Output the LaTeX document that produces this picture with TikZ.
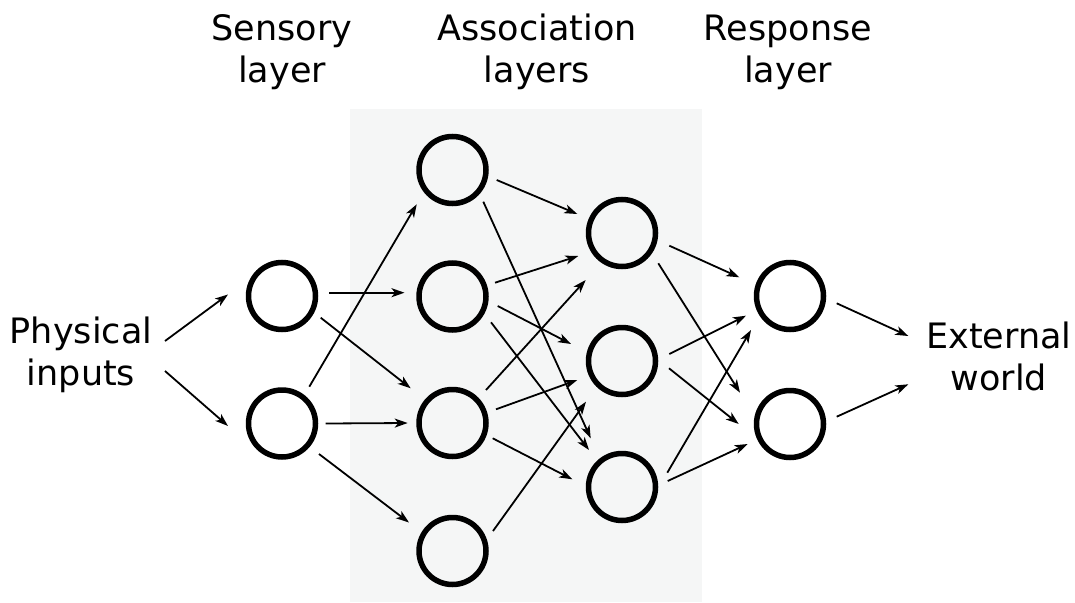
\documentclass[tikz,border=0pt]{standalone}
\usepackage{fontspec}
\setmainfont{DejaVu Sans}
\usetikzlibrary{arrows.meta}
\definecolor{assocbg}{RGB}{245,246,246}
\tikzset{
  neuron/.style={circle, draw=black, line width=5.5pt, minimum size=67pt, inner sep=0pt},
  lbl/.style={align=center, inner sep=0pt, font=\fontsize{35}{41.7}\selectfont, anchor=base},
  conn/.style={line width=1.8pt, -{Stealth[length=13pt,width=9pt,inset=3.5pt]}}
}
\begin{document}
\begin{tikzpicture}[x=1pt,y=-1pt]
\useasboundingbox (0,0) rectangle (1075,602);
\fill[assocbg] (350,109) rectangle (701.5,602);
% labels (base anchor = baseline of the last line)
\node[lbl] (sl) at (282,82) {Sensory\\layer};
\node[lbl] (al) at (537,82) {Association\\layers};
\node[lbl] (rl) at (788,82) {Response\\layer};
\node[lbl] (pi) at (81,385) {Physical\\inputs};
\node[lbl] (ew) at (999,390) {External\\world};
% neurons
\node[neuron] (s1) at (282,296) {};
\node[neuron] (s2) at (282,423.5) {};
\node[neuron] (a1) at (452.5,170) {};
\node[neuron] (a2) at (452.5,296.5) {};
\node[neuron] (a3) at (452.5,423) {};
\node[neuron] (a4) at (452.5,551) {};
\node[neuron] (b1) at (622,233) {};
\node[neuron] (b2) at (622,361) {};
\node[neuron] (b3) at (622,487) {};
\node[neuron] (r1) at (790,296) {};
\node[neuron] (r2) at (790,424) {};
% connectors
\draw[conn] ([shift={(84,-44)}]pi.base) -- ([shift={(-54,-1.5)}]s1.center);
\draw[conn] ([shift={(84,-14)}]pi.base) -- ([shift={(-54,2.5)}]s2.center);
\draw[conn] ([shift={(47,-3.3)}]s1.center) -- ([shift={(-48,-3.8)}]a2.center);
\draw[conn] ([shift={(38.7,21.7)}]s1.center) -- ([shift={(-41.8,-34.7)}]a3.center);
\draw[conn] ([shift={(27.3,-36.8)}]s2.center) -- ([shift={(-35.8,34.3)}]a1.center);
\draw[conn] ([shift={(43.7,0)}]s2.center) -- ([shift={(-44.8,0)}]a3.center);
\draw[conn] ([shift={(37,30.5)}]s2.center) -- ([shift={(-43.5,-28.5)}]a4.center);
\draw[conn] ([shift={(44.2,10)}]a1.center) -- ([shift={(-44.7,-19)}]b1.center);
\draw[conn] ([shift={(30.8,31.7)}]a1.center) -- ([shift={(-31.3,-48.7)}]b3.center);
\draw[conn] ([shift={(42.5,-13.8)}]a2.center) -- ([shift={(-43.7,23)}]b1.center);
\draw[conn] ([shift={(45.2,9.5)}]a2.center) -- ([shift={(-51,-17)}]b2.center);
\draw[conn] ([shift={(38.5,25.8)}]a2.center) -- ([shift={(-33,-37)}]b3.center);
\draw[conn] ([shift={(33.5,-33)}]a3.center) -- ([shift={(-36.3,47)}]b1.center);
\draw[conn] ([shift={(43.5,-13.7)}]a3.center) -- ([shift={(-44.7,19)}]b2.center);
\draw[conn] ([shift={(40.2,15.3)}]a3.center) -- ([shift={(-49.7,-7.7)}]b3.center);
\draw[conn] ([shift={(40.5,-20)}]a4.center) -- ([shift={(-36,40.7)}]b2.center);
\draw[conn] ([shift={(47.3,12.7)}]b1.center) -- ([shift={(-50.7,-18.7)}]r1.center);
\draw[conn] ([shift={(36.3,30.3)}]b1.center) -- ([shift={(-50,-31.3)}]r2.center);
\draw[conn] ([shift={(47.3,-7)}]b2.center) -- ([shift={(-44,19.7)}]r1.center);
\draw[conn] ([shift={(47,7.3)}]b2.center) -- ([shift={(-51.3,0)}]r2.center);
\draw[conn] ([shift={(45.3,-14.3)}]b3.center) -- ([shift={(-39,34)}]r1.center);
\draw[conn] ([shift={(45.7,-6)}]b3.center) -- ([shift={(-42.3,20)}]r2.center);
\draw[conn] ([shift={(46.7,7.3)}]r1.center) -- ([shift={(-90.7,-54)}]ew.base);
\draw[conn] ([shift={(46.7,-7.3)}]r2.center) -- ([shift={(-90.7,-5.7)}]ew.base);
\end{tikzpicture}
\end{document}
